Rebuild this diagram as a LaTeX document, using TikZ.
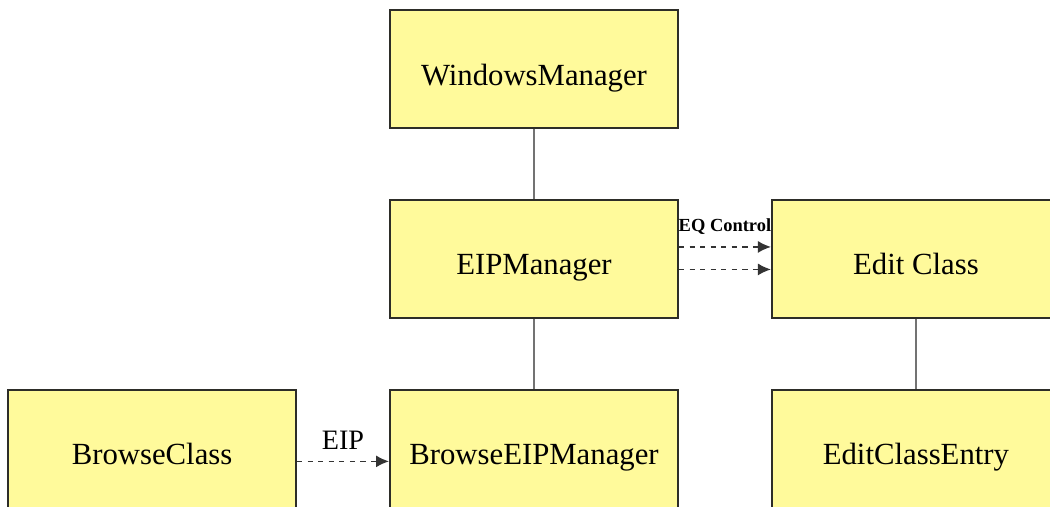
\documentclass[tikz,border=0pt]{standalone}
\usepackage{fontspec}
\setmainfont{Liberation Serif}
\usetikzlibrary{arrows.meta,positioning}

\definecolor{classfill}{RGB}{255,250,155}
\definecolor{classline}{RGB}{45,45,40}
\definecolor{linkgray}{RGB}{115,115,115}

\begin{document}
\begin{tikzpicture}[
  node distance=1.4cm and 1.84cm,
  classbox/.style={draw=classline, line width=1.1pt, fill=classfill, minimum width=5.76cm, minimum height=2.36cm,
    font=\fontsize{17.5}{20}\selectfont, text height=0.64cm, text depth=0pt},
  link/.style={draw=linkgray, line width=1.4pt},
  msg/.style={-{Latex[length=2.6mm,width=2.4mm]}, dashed, line width=0.9pt, draw=black!80}
]
\useasboundingbox (0,0) rectangle (21,-10.12);

\node[classbox] (wm) at (10.68,-1.38) {WindowsManager};
\node[classbox, below=of wm] (eip) {EIPManager};
\node[classbox, right=of eip] (edit) {Edit Class};
\node[classbox, below=of eip] (beip) {BrowseEIPManager};
\node[classbox, below=of edit] (entry) {EditClassEntry};
\node[classbox, left=of beip] (browse) {BrowseClass};

\draw[link] (wm) -- (eip);
\draw[link] (eip) -- (beip);
\draw[link] (edit) -- (entry);

\draw[msg] ([yshift=0.24cm]eip.east) -- node[above=0.2cm, font=\fontsize{10.5}{12}\selectfont\bfseries, inner sep=1pt] {EQ Control} ([yshift=0.24cm]edit.west);
\draw[msg] ([yshift=-0.21cm]eip.east) -- ([yshift=-0.21cm]edit.west);
\draw[msg] ([yshift=-0.25cm]browse.east) -- node[above=0.1cm, font=\fontsize{16}{18}\selectfont] {EIP} ([yshift=-0.25cm]beip.west);
\end{tikzpicture}
\end{document}
